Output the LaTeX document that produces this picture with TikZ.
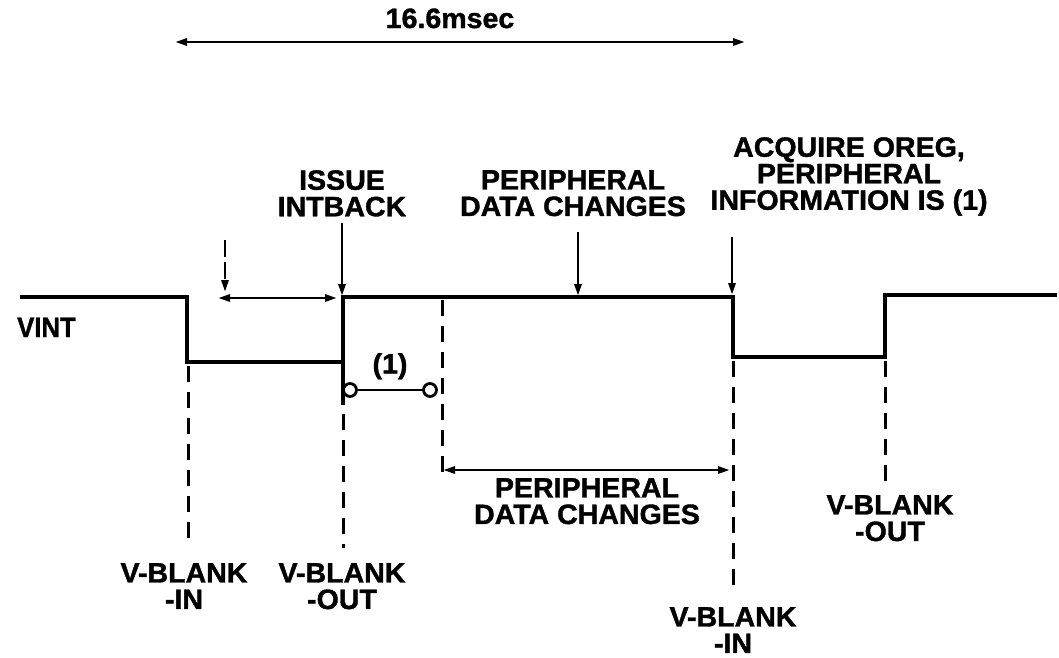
\documentclass[tikz,border=0pt]{standalone}
\usepackage{fontspec}
\setmainfont{Liberation Sans}[BoldFeatures={FakeBold=1.3,FakeStretch=1.02}]
\usetikzlibrary{arrows.meta}
\begin{document}
\begin{tikzpicture}[x=1pt,y=-1pt,
  lbl/.style={font=\fontsize{28}{26.5}\selectfont\bfseries, inner sep=0pt, align=center},
  wave/.style={line width=3.5pt, line join=miter},
  arr/.style={line width=2.8pt, -{Triangle[length=12pt,width=7pt]}},
  darr/.style={line width=2.8pt, {Triangle[length=12pt,width=7pt]}-{Triangle[length=12pt,width=7pt]}},
  guide/.style={line width=3pt, dash pattern=on 16pt off 10pt},
  pin/.style={circle, draw, line width=2.8pt, minimum size=13pt, inner sep=0pt, fill=white}]
\useasboundingbox (0,0) rectangle (1059,657);

% labels
\node[lbl, anchor=base] (period) at (450,28) {16.6msec};
\node[lbl, anchor=base west] (vint) at (17,337) {\scalebox{0.9}[1]{VINT}};
\node[lbl, anchor=north] (issue) at (342,170) {ISSUE\\INTBACK};
\node[lbl, anchor=north] (pdcTop) at (573,170) {PERIPHERAL\\DATA CHANGES};
\node[lbl, anchor=north] (acq) at (849,137) {ACQUIRE OREG,\\PERIPHERAL\\INFORMATION IS (1)};
\node[lbl, anchor=north] (one) at (390,353) {(1)};
\node[lbl, anchor=north] (pdcBot) at (587,478) {PERIPHERAL\\DATA CHANGES};
\node[lbl, anchor=north] (vbinA) at (184,563) {V-BLANK\\-IN};
\node[lbl, anchor=north] (vboutA) at (342,563) {V-BLANK\\-OUT};
\node[lbl, anchor=north] (vbinB) at (733,607) {V-BLANK\\-IN};
\node[lbl, anchor=north] (vboutB) at (890,495) {V-BLANK\\-OUT};

% waveform corners
\coordinate (w0) at (20,297);
\coordinate (w1) at (187,297);
\coordinate (w2) at (187,362);
\coordinate (w3) at (343,362);
\coordinate (w4) at (343,297);
\coordinate (w5) at (733,297);
\coordinate (w6) at (733,357);
\coordinate (w7) at (885,357);
\coordinate (w8) at (885,295);
\coordinate (w9) at (1057,295);
\draw[wave] (w0) -- (w1) -- (w2) -- (w3) -- (w4) -- (w5) -- (w6) -- (w7) -- (w8) -- (w9);

% period arrow
\coordinate (pL) at (175,42);
\coordinate (pR) at (745,42);
\draw[darr] (pL) -- (pR);

% dashed pointer and interval before INTBACK
\coordinate (dTop) at (225,240);
\coordinate (dBot) at (225,292);
\draw[arr, dash pattern=on 17pt off 5pt] (dTop) -- (dBot);
\coordinate (hL) at (218,298);
\coordinate (hR) at (337,298);
\draw[darr] (hL) -- (hR);

% event pointers
\coordinate (iTop) at (342,223);
\coordinate (iBot) at (342,296);
\draw[arr] (iTop) -- (iBot);
\coordinate (pdTop) at (578,232);
\coordinate (pdBot) at (578,296);
\draw[arr] (pdTop) -- (pdBot);
\coordinate (aTop) at (732,237);
\coordinate (aBot) at (732,295);
\draw[arr] (aTop) -- (aBot);

% (1) interval with pins
\coordinate (sA) at (343,362);
\coordinate (sB) at (343,405);
\draw[wave] (sA) -- (sB);
\node[pin] (c1) at (350,390) {};
\node[pin] (c2) at (430,390) {};
\draw[line width=2.5pt] (c1) -- (c2);

% vertical guides
\coordinate (g1a) at (188,366);
\coordinate (g1b) at (188,547);
\draw[guide] (g1a) -- (g1b);
\coordinate (g2a) at (343,414);
\coordinate (g2b) at (343,548);
\draw[guide] (g2a) -- (g2b);
\coordinate (g3a) at (442,300);
\coordinate (g3b) at (442,472);
\draw[guide] (g3a) -- (g3b);
\coordinate (g4a) at (733,361);
\coordinate (g4b) at (733,595);
\draw[guide] (g4a) -- (g4b);
\coordinate (g5a) at (885,361);
\coordinate (g5b) at (885,483);
\draw[guide] (g5a) -- (g5b);

% bottom interval
\coordinate (bL) at (443,470);
\coordinate (bR) at (730,470);
\draw[darr] (bL) -- (bR);
\end{tikzpicture}
\end{document}
